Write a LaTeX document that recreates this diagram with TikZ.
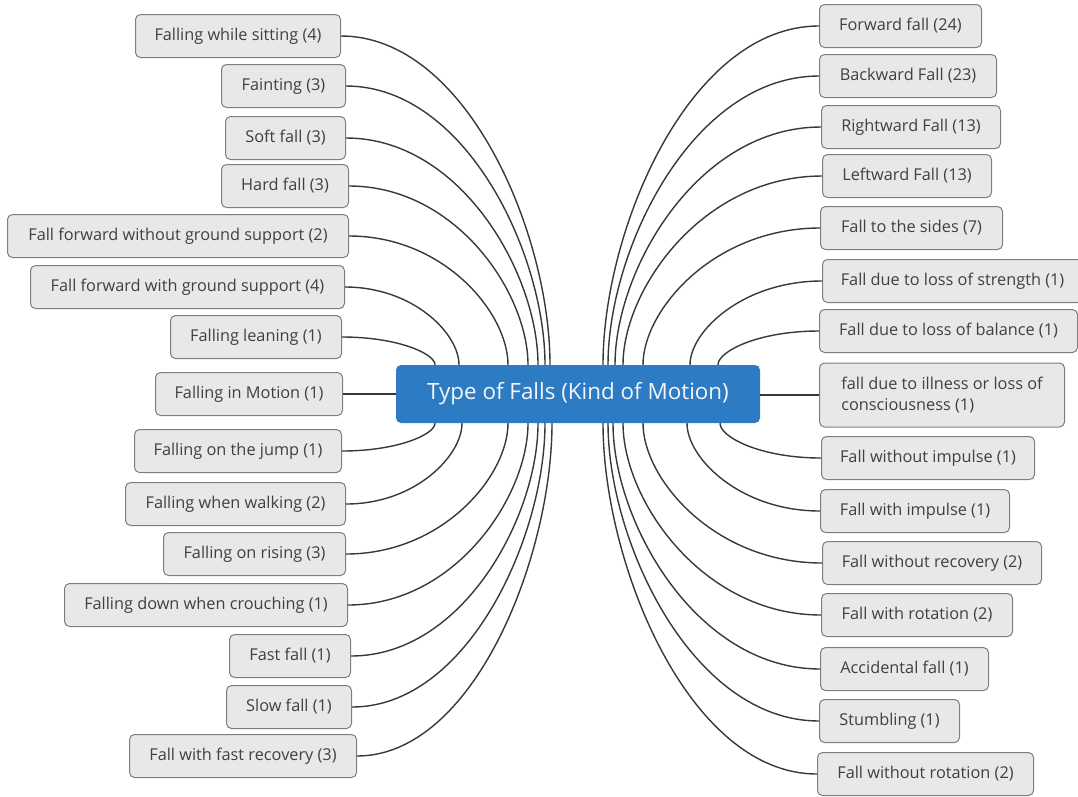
\documentclass[tikz,border=0pt]{standalone}
\usepackage{fontspec}
\setmainfont{Open Sans}
\usetikzlibrary{calc}
\definecolor{leaffill}{HTML}{E8E8E8}
\definecolor{leafdraw}{HTML}{7E7E7E}
\definecolor{leaftext}{HTML}{404040}
\definecolor{rootfill}{HTML}{2C7BC3}
\definecolor{roottext}{HTML}{F2F6FB}
\definecolor{wire}{HTML}{383838}
\begin{document}
\begin{tikzpicture}[x=1pt,y=-1pt,
  leaf/.style={draw=leafdraw, fill=leaffill, rounded corners=5pt, line width=1pt,
    text=leaftext, font=\fontsize{16.3}{21}\selectfont,
    minimum height=43pt, inner xsep=0pt, inner ysep=0pt},
  lleaf/.style={leaf, anchor=east},
  rleaf/.style={leaf, anchor=west},
  root/.style={fill=rootfill, rounded corners=5pt, text=roottext,
    font=\fontsize{22.4}{26}\selectfont, minimum width=364pt, minimum height=58pt},
  wirestyle/.style={draw=wire, line width=1.4pt},
  branch/.style={wirestyle, to path={.. controls
    ($(\tikztostart)!0.6!(\tikztostart -| \tikztotarget)$) and
    ($(\tikztotarget)!0.4!(\tikztostart -| \tikztotarget)$) .. (\tikztotarget)}}
]
\useasboundingbox (0,0) rectangle (1078,796);

% central topic
\node[root] (c) at (578,394) {Type of Falls (Kind of Motion)};

% left branches
\node[lleaf, minimum width=205pt] (L1)  at (341,36)  {Falling while sitting (4)};
\node[lleaf, minimum width=124pt] (L2)  at (346,86)  {Fainting (3)};
\node[lleaf, minimum width=120pt] (L3)  at (346,138) {Soft fall (3)};
\node[lleaf, minimum width=127pt] (L4)  at (349,186) {Hard fall (3)};
\node[lleaf, minimum width=341pt] (L5)  at (349,236) {Fall forward without ground support (2)};
\node[lleaf, minimum width=314pt] (L6)  at (345,287) {Fall forward with ground support (4)};
\node[lleaf, minimum width=171pt] (L7)  at (342,337) {Falling leaning (1)};
\node[lleaf, minimum width=187pt] (L8)  at (343,394) {Falling in Motion (1)};
\node[lleaf, minimum width=207pt] (L9)  at (342,451) {Falling on the jump (1)};
\node[lleaf, minimum width=220pt] (L10) at (346,504) {Falling when walking (2)};
\node[lleaf, minimum width=182pt] (L11) at (346,554) {Falling on rising (3)};
\node[lleaf, minimum width=283pt] (L12) at (348,605) {Falling down when crouching (1)};
\node[lleaf, minimum width=121pt] (L13) at (351,656) {Fast fall (1)};
\node[lleaf, minimum width=125pt] (L14) at (352,707) {Slow fall (1)};
\node[lleaf, minimum width=227pt] (L15) at (357,756) {Fall with fast recovery (3)};

% right branches
\node[rleaf, minimum width=162pt] (R1)  at (819,26)  {Forward fall (24)};
\node[rleaf, minimum width=177pt] (R2)  at (819,76)  {Backward Fall (23)};
\node[rleaf, minimum width=179pt] (R3)  at (821,127) {Rightward Fall (13)};
\node[rleaf, minimum width=169pt] (R4)  at (822,176) {Leftward Fall (13)};
\node[rleaf, minimum width=182pt] (R5)  at (820,228) {Fall to the sides (7)};
\node[rleaf, minimum width=260pt] (R6)  at (822,281) {Fall due to loss of strength (1)};
\node[rleaf, minimum width=258pt] (R7)  at (819,331) {Fall due to loss of balance (1)};
\node[rleaf, minimum width=245pt, minimum height=64pt, align=left] (R8) at (819,395)
  {fall due to illness or loss of\\consciousness (1)};
\node[rleaf, minimum width=213pt] (R9)  at (821,458) {Fall without impulse (1)};
\node[rleaf, minimum width=189pt] (R10) at (820,511) {Fall with impulse (1)};
\node[rleaf, minimum width=219pt] (R11) at (822,563) {Fall without recovery (2)};
\node[rleaf, minimum width=191pt] (R12) at (821,615) {Fall with rotation (2)};
\node[rleaf, minimum width=168pt] (R13) at (820,669) {Accidental fall (1)};
\node[rleaf, minimum width=140pt] (R14) at (819,721) {Stumbling (1)};
\node[rleaf, minimum width=216pt] (R15) at (817,774) {Fall without rotation (2)};

% attachment points on the central topic (x positions along its top and bottom edges)
\foreach \n/\x in {1/550,2/545,3/538,4/528,5/508,6/459,7/435}
  \path (c.north) ++({\x-578},0) coordinate (tl\n);
\foreach \n/\x in {9/435,10/462,11/508,12/528,13/538,14/545,15/552}
  \path (c.south) ++({\x-578},0) coordinate (bl\n);
\foreach \n/\x in {1/603,2/608,3/615,4/623,5/643,6/690,7/718}
  \path (c.north) ++({\x-578},0) coordinate (tr\n);
\foreach \n/\x in {9/720,10/687,11/643,12/623,13/613,14/608,15/603}
  \path (c.south) ++({\x-578},0) coordinate (br\n);

% connectors
\foreach \n in {1,...,7}{
  \draw[branch] (L\n.east) to (tl\n);
  \draw[branch] (R\n.west) to (tr\n);
}
\foreach \n in {9,...,15}{
  \draw[branch] (L\n.east) to (bl\n);
  \draw[branch] (R\n.west) to (br\n);
}
\draw[wirestyle] (L8.east) -- (c.west);
\draw[wirestyle] (R8.west) -- (R8.west -| c.east);
\end{tikzpicture}
\end{document}
